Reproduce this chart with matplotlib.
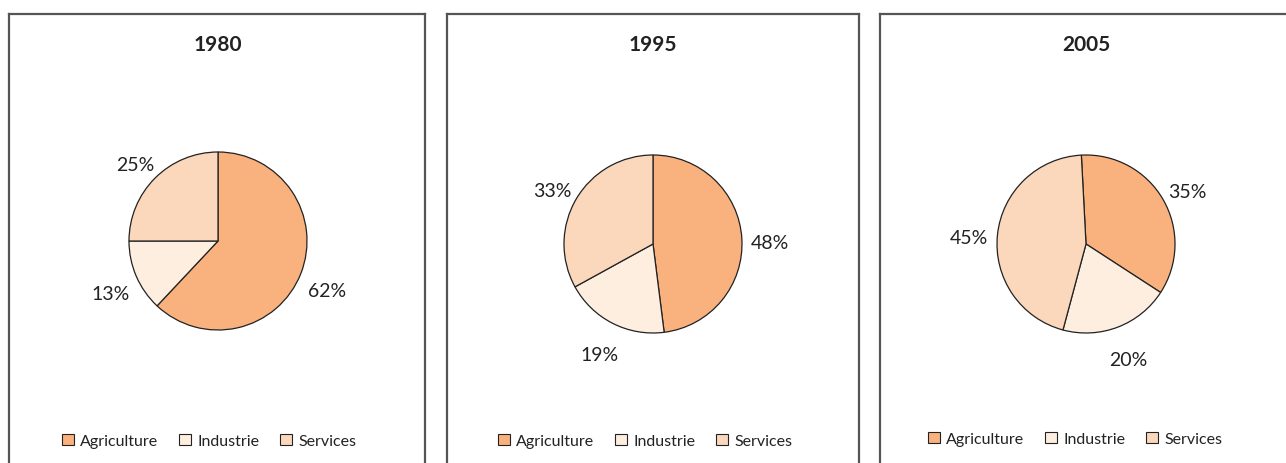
import matplotlib
matplotlib.use('Agg')
import matplotlib.pyplot as plt
from matplotlib.patches import Patch

plt.rcParams['font.family'] = ['Lato', 'DejaVu Sans']

years = ['1980', '1995', '2005']
sectors = ['Agriculture', 'Industrie', 'Services']
shares_1980 = [62, 13, 25]
shares_1995 = [48, 19, 33]
shares_2005 = [35, 20, 45]
all_shares = [shares_1980, shares_1995, shares_2005]

colors = ['#F9B27E', '#FDEEE0', '#FBD7BB']

W, H = 1286, 464
fig = plt.figure(figsize=(W / 100, H / 100), dpi=100)

# panel boxes in pixels (left, right), top edge; bottom is cut off
boxes = [(9, 425), (447, 859), (880, 1295)]
box_top = 15
pie_centers = [(218, 242), (653, 245), (1086, 245)]
radius = 89
start_angles = [90, 90, 93]
legend_y = [442, 442, 440]

for i in range(3):
    l, r = boxes[i]
    frame = fig.add_axes([l / W, -0.2, (r - l) / W, (H - box_top) / H + 0.2])
    frame.set_xticks([])
    frame.set_yticks([])
    frame.patch.set_alpha(0)
    for s in frame.spines.values():
        s.set_color('#555555')
        s.set_linewidth(1.6)

    cx, cy = pie_centers[i]
    side = 3 * radius
    ax = fig.add_axes([(cx - side / 2) / W, (H - cy - side / 2) / H, side / W, side / H])
    wedges, texts, autotexts = ax.pie(
        all_shares[i], colors=colors, startangle=start_angles[i], counterclock=False,
        autopct='%d%%', pctdistance=1.32,
        wedgeprops=dict(edgecolor='#222222', linewidth=0.9),
        textprops=dict(fontsize=14, color='#222222'))
    # labels sit a bit lower in the original
    for t in autotexts:
        x, y = t.get_position()
        t.set_position((x, y - 0.07))
    ax.set_xlim(-1.5, 1.5)
    ax.set_ylim(-1.5, 1.5)
    ax.set_aspect('equal')

    fig.text(cx / W, 1 - 45 / H, years[i], ha='center', va='center',
             fontsize=15, fontweight='bold', color='#222222')

    handles = [Patch(facecolor=c, edgecolor='#222222', linewidth=0.8) for c in colors]
    fig.legend(handles, sectors, loc='center', bbox_to_anchor=((l + min(r, W)) / 2 / W - 0.006, 1 - legend_y[i] / H),
               ncol=3, frameon=False, fontsize=11.5, handlelength=0.75, handleheight=0.75,
               handletextpad=0.4, columnspacing=1.3, labelcolor='#222222')

fig.savefig('out.png', dpi=100)
